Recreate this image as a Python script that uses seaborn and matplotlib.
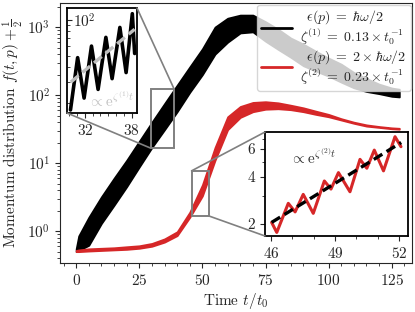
import numpy as np
import pandas as pd
import matplotlib
matplotlib.use('Agg')
import matplotlib.pyplot as plt
import seaborn as sns
from matplotlib.ticker import MultipleLocator, FixedLocator, NullFormatter, FormatStrFormatter
from matplotlib.patches import Rectangle, ConnectionPatch
from matplotlib.lines import Line2D

sns.set_style('ticks')
plt.rcParams['font.family'] = 'serif'
plt.rcParams['font.serif'] = ['cmr10']
plt.rcParams['mathtext.fontset'] = 'cm'
plt.rcParams['axes.formatter.use_mathtext'] = True
plt.rcParams['font.size'] = 11

RED = '#d62728'

# envelope of the oscillating curves (upper / lower)
t_env = [0, 1, 5, 10, 15, 20, 25, 30, 35, 40, 45, 50, 55, 60, 65, 70,
         75, 80, 85, 90, 95, 100, 105, 110, 115, 120, 125, 128]
black_hi = [0.55, 0.85, 1.6, 3.2, 6.0, 11, 21, 40, 75, 140, 260, 480, 1000, 1350,
            1500, 1500, 1200, 930, 690, 560, 440, 350, 285, 215, 175, 145, 127, 122]
black_lo = [0.5, 0.52, 0.62, 1.3, 2.4, 4.5, 8.8, 17, 31, 57, 110, 200, 400, 600,
            820, 850, 620, 470, 360, 270, 225, 190, 155, 128, 113, 105, 96, 94]
red_hi = [0.52, 0.53, 0.55, 0.56, 0.57, 0.59, 0.61, 0.66, 0.77, 0.98, 1.9, 4.8, 17, 48,
          68, 78, 80, 77, 71, 65, 58, 52, 45, 40, 36.5, 34.5, 33, 32.5]
red_lo = [0.5, 0.5, 0.51, 0.52, 0.53, 0.54, 0.56, 0.6, 0.69, 0.86, 1.6, 3.3, 11, 31,
          47, 57, 62, 63, 61, 57, 52, 48, 43, 38.5, 35, 33.5, 32, 31.5]

# zoomed views: successive maxima / minima
black_zoom_t = [30.15, 31.07, 31.9, 32.85, 33.7, 34.7, 35.5, 36.5, 37.3, 38.1, 38.4]
black_zoom_f = [17.5, 48, 22, 60, 26, 71, 32, 86, 36, 112, 52]
black_fit_t = [30.2, 38.4]
black_fit_f = [30, 83]

red_zoom_t = [46.03, 46.27, 46.81, 47.13, 47.51, 47.98, 48.50, 48.81,
              49.16, 49.70, 50.17, 50.49, 50.84, 51.27, 51.81, 52.09]
red_zoom_f = [2.05, 1.77, 2.71, 2.39, 3.09, 2.34, 3.76, 3.34,
              4.25, 3.21, 5.16, 4.53, 5.91, 4.36, 7.19, 6.21]
red_fit_t = [46.03, 52.1]
red_fit_f = [2.05, 6.6]

labels = [r'$\;\;\epsilon(p)\;=\;\hbar\omega/2$' + '\n' + r'$\zeta^{(1)}\;=\;0.13\times t_0^{-1}$',
          r'$\;\;\epsilon(p)\;=\;2\times\hbar\omega/2$' + '\n' + r'$\zeta^{(2)}\;=\;0.23\times t_0^{-1}$']

fig = plt.figure(figsize=(4.15, 3.12), dpi=100)
ax = fig.add_axes([0.1446, 0.157, 0.848, 0.833])
ax.set_yscale('log')
ax.fill_between(t_env, black_lo, black_hi, color='black', lw=1.3)
ax.fill_between(t_env, red_lo, red_hi, color=RED, lw=1.3)
ax.set_xlim(-6.4, 133)
ax.set_ylim(0.34, 2250)
ax.xaxis.set_major_locator(MultipleLocator(25))
ax.xaxis.set_minor_locator(MultipleLocator(5))
ax.set_xlabel('Time $t/t_0$', labelpad=2)
ax.set_ylabel(r'Momentum distribution $f(t,p)+\frac{1}{2}$', labelpad=2)
handles = [Line2D([0], [0], color='black', lw=2), Line2D([0], [0], color=RED, lw=2)]
leg = ax.legend(handles, labels, loc='upper right', borderaxespad=0.1, frameon=True,
                fancybox=True, framealpha=0.8, fontsize=10, handlelength=2.2,
                handletextpad=0.6, labelspacing=0.1, borderpad=0.3)
for txt in leg.get_texts():
    txt.set_linespacing(1.0)

# inset 1
axb = fig.add_axes([0.1614, 0.6378, 0.1687, 0.3365])
axb.set_yscale('log')
sns.lineplot(x=black_zoom_t, y=black_zoom_f, ax=axb, color='black', lw=2.6,
             sort=False, estimator=None)
sns.lineplot(x=black_fit_t, y=black_fit_f, ax=axb, color='#bdbdbd', lw=2.4,
             linestyle=(0, (3, 1.5)))
axb.text(32.4, 21, r'$\propto \mathrm{e}^{\zeta^{(1)} t}$', color='#c4c4c4', va='center')
axb.set_xlim(29.7, 38.7)
axb.set_ylim(16.5, 125)
axb.xaxis.set_major_locator(FixedLocator([32, 38]))
axb.xaxis.set_minor_locator(MultipleLocator(1))
axb.yaxis.set_minor_formatter(NullFormatter())
axb.tick_params(axis='y', which='both', direction='in', pad=-4)
for lb in axb.get_yticklabels():
    lb.set_horizontalalignment('left')

# inset 2
axr = fig.add_axes([0.6386, 0.2436, 0.3446, 0.3333])
axr.set_yscale('log')
sns.lineplot(x=red_zoom_t, y=red_zoom_f, ax=axr, color=RED, lw=2.2,
             sort=False, estimator=None)
sns.lineplot(x=red_fit_t, y=red_fit_f, ax=axr, color='black', lw=2.4,
             linestyle=(0, (3, 1.5)))
axr.text(46.9, 5.3, r'$\propto \mathrm{e}^{\zeta^{(2)} t}$', color='0.2', va='center')
axr.set_xlim(45.72, 52.42)
axr.set_ylim(1.68, 7.7)
axr.xaxis.set_major_locator(FixedLocator([46, 49, 52]))
axr.xaxis.set_minor_locator(MultipleLocator(1))
axr.yaxis.set_major_locator(FixedLocator([2, 4, 6]))
axr.yaxis.set_major_formatter(FormatStrFormatter('%d'))
axr.yaxis.set_minor_locator(FixedLocator([3, 5, 7]))
axr.yaxis.set_minor_formatter(NullFormatter())

for a in (axb, axr):
    for s in a.spines.values():
        s.set_linewidth(1.3)
        s.set_color('black')

# zoom rectangles and connectors
bx0, bx1 = axb.get_xlim()
by0, by1 = axb.get_ylim()
rx0, rx1 = axr.get_xlim()
ry0, ry1 = axr.get_ylim()
ax.add_patch(Rectangle((bx0, by0), bx1 - bx0, by1 - by0, fill=False, ec='grey', lw=1.4))
ax.add_patch(Rectangle((rx0, ry0), rx1 - rx0, ry1 - ry0, fill=False, ec='grey', lw=1.4))
links = [((bx1, by1), axb, (1, 1)), ((bx0, by0), axb, (0, 0)),
         ((rx0, ry1), axr, (0, 1)), ((rx1, ry0), axr, (0, 0))]
for xy, axi, corner in links:
    con = ConnectionPatch(xyA=xy, coordsA=ax.transData, xyB=corner,
                          coordsB=axi.transAxes, color='grey', lw=1.2)
    fig.add_artist(con)

fig.savefig('out.png', dpi=100)
